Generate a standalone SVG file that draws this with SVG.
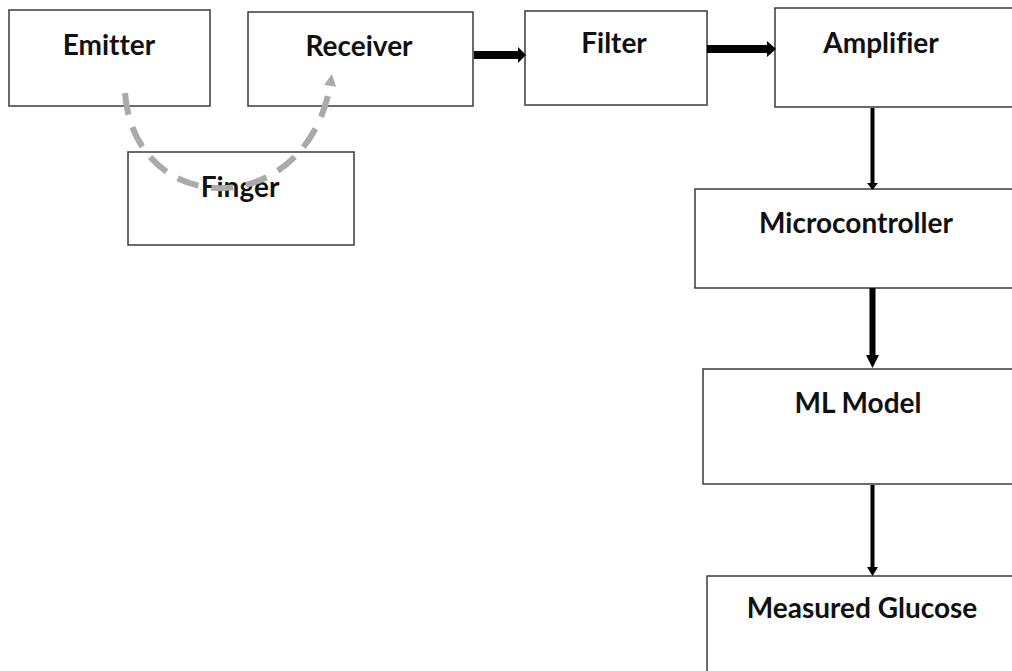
<svg xmlns="http://www.w3.org/2000/svg" width="1012" height="671" viewBox="0 0 1012 671">
<style>
.box{fill:#fff;stroke:#3a3a3a;stroke-width:1.5}
.lbl{font-family:Lato,"Open Sans",sans-serif;font-weight:bold;font-size:28px;fill:#111;text-anchor:middle;font-variant-ligatures:none}
.dark{fill:#000}
</style>
<defs>
<marker id="gh" viewBox="0 0 10 10" refX="5" refY="5" markerWidth="12" markerHeight="12" markerUnits="userSpaceOnUse" orient="auto">
<path d="M0,0 L10,5 L0,10 Z" fill="#aaa"/>
</marker>
</defs>
<rect width="1012" height="671" fill="#fff"/>
<g id="emitter"><rect class="box" x="9" y="10" width="201" height="96"/><text class="lbl" x="109" y="55">Emitter</text></g>
<g id="receiver"><rect class="box" x="248" y="12" width="225" height="94"/><text class="lbl" x="359" y="56">Receiver</text></g>
<g id="finger"><rect class="box" x="128" y="152" width="226" height="93"/><text class="lbl" x="240" y="197">Finger</text></g>
<g id="filter"><rect class="box" x="525" y="11" width="182" height="94"/><text class="lbl" x="614" y="53">Filter</text></g>
<g id="amplifier"><rect class="box" x="775" y="8" width="240" height="99"/><text class="lbl" x="881" y="53">Amplifier</text></g>
<g id="microcontroller"><rect class="box" x="695" y="189" width="320" height="99"/><text class="lbl" x="856" y="233">Microcontroller</text></g>
<g id="mlmodel"><rect class="box" x="703" y="369" width="312" height="115"/><text class="lbl" x="858" y="413">ML Model</text></g>
<g id="measured"><rect class="box" x="707" y="576" width="308" height="100"/><text class="lbl" x="862" y="618">Measured Glucose</text></g>
<g id="connectors">
<path d="M125,93 C135,222 310,222 331,80" fill="none" stroke="#aaa" stroke-width="6" stroke-dasharray="22,13" marker-end="url(#gh)"/>
<rect class="dark" x="474" y="51" width="46" height="8"/>
<path class="dark" d="M518,47 L526,55 L518,63 Z"/>
<rect class="dark" x="707" y="45" width="62" height="8"/>
<path class="dark" d="M767,41 L776,49 L767,57 Z"/>
<rect class="dark" x="870.5" y="108" width="4" height="76"/>
<path class="dark" d="M867,183 L878,183 L872.5,190 Z"/>
<rect class="dark" x="869.5" y="288" width="6" height="68"/>
<path class="dark" d="M866,355 L879,355 L872.5,368 Z"/>
<rect class="dark" x="870.5" y="485" width="4" height="83"/>
<path class="dark" d="M867,567 L878,567 L872.5,576 Z"/>
</g>
</svg>
